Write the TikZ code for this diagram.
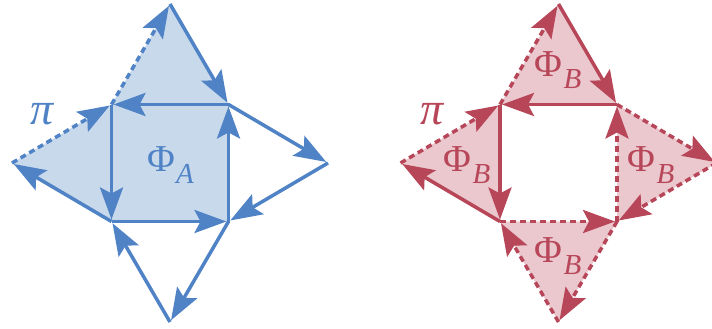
\documentclass[tikz,border=0pt]{standalone}
\usepackage{fontspec}
\setmainfont{Liberation Serif}
\usetikzlibrary{arrows.meta}
\definecolor{bstroke}{RGB}{80,131,197}
\definecolor{bfill}{RGB}{200,217,236}
\definecolor{rstroke}{RGB}{183,70,89}
\definecolor{rfill}{RGB}{235,199,206}
\begin{document}
\begin{tikzpicture}[x=1pt,y=-1pt,
  edge/.style={line width=3.5pt, -{Stealth[length=32pt,width=23pt,inset=6pt]}, shorten >=2pt},
  dashedge/.style={edge, dash pattern=on 6pt off 4pt},
  philbl/.style={font=\fontsize{38}{38}\selectfont, inner sep=0pt},
  pilbl/.style={font=\fontsize{46}{46}\selectfont\itshape, inner sep=0pt}]
\useasboundingbox (0,0) rectangle (712,329);
\clip (0,0) rectangle (712,329);
% left figure
\coordinate (aTL) at (111.5,104.5);
\coordinate (aTR) at (228.5,104.5);
\coordinate (aBR) at (228.5,221.5);
\coordinate (aBL) at (111.5,221.5);
\coordinate (aT) at (170,4);
\coordinate (aB) at (170,322);
\coordinate (aL) at (12,163);
\coordinate (aR) at (328,163);
% right figure
\coordinate (bTL) at (500,104.5);
\coordinate (bTR) at (617,104.5);
\coordinate (bBR) at (617,221.5);
\coordinate (bBL) at (500,221.5);
\coordinate (bT) at (558.5,4);
\coordinate (bB) at (558.5,322);
\coordinate (bL) at (400.5,163);
\coordinate (bR) at (716.5,163);
% fills
\fill[bfill] (aTL) -- (aT) -- (aTR) -- (aBR) -- (aBL) -- (aL) -- cycle;
\fill[rfill] (bTL) -- (bT) -- (bTR) -- cycle;
\fill[rfill] (bTL) -- (bL) -- (bBL) -- cycle;
\fill[rfill] (bTR) -- (bR) -- (bBR) -- cycle;
\fill[rfill] (bBL) -- (bB) -- (bBR) -- cycle;
% left edges
\begin{scope}[draw=bstroke, color=bstroke]
\draw[dashedge] (aTL) -- (aT);
\draw[edge] (aT) -- (aTR);
\draw[edge] (aTR) -- (aTL);
\draw[dashedge] (aL) -- (aTL);
\draw[edge] (aTL) -- (aBL);
\draw[edge] (aBL) -- (aL);
\draw[edge] (aBL) -- (aBR);
\draw[edge] (aBR) -- (aTR);
\draw[edge] (aTR) -- (aR);
\draw[edge] (aR) -- (aBR);
\draw[edge] (aBR) -- (aB);
\draw[edge] (aB) -- (aBL);
\node[pilbl, text=bstroke] (piA) at (42,114) {π};
\node[philbl, text=bstroke] (phiA) at (170.5,165) {Φ\kern1pt\raisebox{-12pt}{\fontsize{29}{29}\selectfont\itshape A}};
\end{scope}
% right edges
\begin{scope}[draw=rstroke, color=rstroke]
\draw[dashedge] (bTL) -- (bT);
\draw[edge] (bT) -- (bTR);
\draw[edge] (bTR) -- (bTL);
\draw[dashedge] (bL) -- (bTL);
\draw[edge] (bTL) -- (bBL);
\draw[edge] (bBL) -- (bL);
\draw[dashedge] (bBL) -- (bBR);
\draw[dashedge] (bBR) -- (bTR);
\draw[dashedge] (bTR) -- (bR);
\draw[dashedge] (bR) -- (bBR);
\draw[dashedge] (bBR) -- (bB);
\draw[dashedge] (bB) -- (bBL);
\node[pilbl, text=rstroke] (piB) at (432,114) {π};
\node[philbl, text=rstroke] (phiBt) at (558,70) {Φ\kern1pt\raisebox{-12pt}{\fontsize{29}{29}\selectfont\itshape B}};
\node[philbl, text=rstroke] (phiBl) at (467,165) {Φ\kern1pt\raisebox{-12pt}{\fontsize{29}{29}\selectfont\itshape B}};
\node[philbl, text=rstroke] (phiBr) at (651,165) {Φ\kern1pt\raisebox{-12pt}{\fontsize{29}{29}\selectfont\itshape B}};
\node[philbl, text=rstroke] (phiBb) at (558,256) {Φ\kern1pt\raisebox{-12pt}{\fontsize{29}{29}\selectfont\itshape B}};
\end{scope}
\end{tikzpicture}
\end{document}
